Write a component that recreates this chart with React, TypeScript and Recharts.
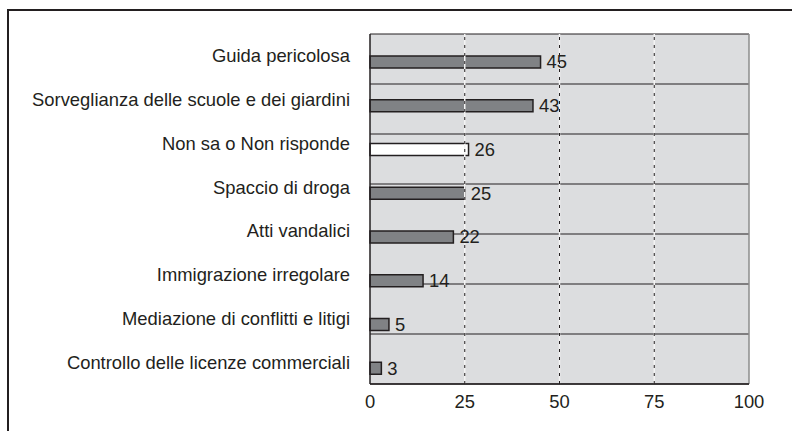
import React from 'react';
import { BarChart, Bar, XAxis, YAxis, CartesianGrid, ReferenceLine, LabelList, Cell } from 'recharts';

const categories = [
  'Guida pericolosa',
  'Sorveglianza delle scuole e dei giardini',
  'Non sa o Non risponde',
  'Spaccio di droga',
  'Atti vandalici',
  'Immigrazione irregolare',
  'Mediazione di conflitti e litigi',
  'Controllo delle licenze commerciali',
];
const values = [45, 43, 26, 25, 22, 14, 5, 3];
const xTicks = [0, 25, 50, 75, 100];
const dashedLines = [25, 50, 75];
const rowBoundaries = [0, 1, 2, 3, 4, 5, 6, 7, 8];
const noAnswerCategory = 'Non sa o Non risponde';

const data = categories.map((name, i) => ({ name, value: values[i] }));

const FONT = '"Liberation Sans", Arial, Helvetica, sans-serif';
const FONT_SIZE = 18.4;
const INK = '#231f20';
const BAR_FILL = '#808285';
const PLOT_BG = '#dcdddf';
const BAR_SHIFT = 6;

const ShiftedBar = (props: any) => {
  const { x, y, width, height, fill } = props;
  return (
    <rect x={x} y={y + BAR_SHIFT} width={width} height={height} fill={fill} stroke={INK} strokeWidth={1.5} />
  );
};

const ValueLabel = (props: any) => {
  const { x, y, width, height, value } = props;
  return (
    <text
      x={x + width + 6}
      y={y + height / 2 + BAR_SHIFT}
      dy="0.35em"
      fontSize={FONT_SIZE}
      fill={INK}
      fontFamily={FONT}
    >
      {value}
    </text>
  );
};

const EmptyTick = () => <g />;

export default function App() {
  return (
    <div style={{ position: 'absolute', left: 0, top: 0, width: 792, height: 431, background: '#fff' }}>
      <div
        style={{
          position: 'absolute',
          left: 7,
          top: 9,
          width: 785,
          height: 422,
          borderTop: `2px solid ${INK}`,
          borderLeft: `2px solid ${INK}`,
          boxSizing: 'border-box',
          pointerEvents: 'none',
        }}
      />
      <div style={{ position: 'absolute', left: 0, top: 0 }}>
        <BarChart
          width={792}
          height={431}
          data={data}
          layout="vertical"
          margin={{ top: 34, right: 43, bottom: 0, left: 0 }}
          barCategoryGap={0}
        >
          <CartesianGrid yAxisId="rows" horizontal vertical={false} fill={PLOT_BG} stroke={INK} strokeWidth={1} />
          <YAxis
            yAxisId="rows"
            type="number"
            domain={[0, 8]}
            ticks={rowBoundaries}
            width={0}
            tickSize={7}
            tickLine={{ stroke: INK, strokeWidth: 1 }}
            axisLine={false}
            tick={EmptyTick}
            allowDataOverflow
          />
          <YAxis
            yAxisId="cat"
            type="category"
            dataKey="name"
            width={370}
            tickSize={0}
            tickMargin={20}
            tickLine={false}
            axisLine={{ stroke: INK, strokeWidth: 1.5 }}
            interval={0}
            tick={{ fontSize: FONT_SIZE, fill: INK, fontFamily: FONT }}
          />
          <XAxis
            type="number"
            domain={[0, 100]}
            ticks={xTicks}
            height={47}
            tickSize={0}
            tickMargin={11}
            tickLine={false}
            axisLine={{ stroke: INK, strokeWidth: 1.5 }}
            tick={{ fontSize: FONT_SIZE, fill: INK, fontFamily: FONT }}
          />
          {dashedLines.map((v) => (
            <ReferenceLine key={`w${v}`} yAxisId="cat" x={v} stroke="#f4f4f4" strokeWidth={1.5} />
          ))}
          {dashedLines.map((v) => (
            <ReferenceLine key={`d${v}`} yAxisId="cat" x={v} stroke={INK} strokeWidth={1} strokeDasharray="3 5" />
          ))}
          <ReferenceLine yAxisId="cat" x={100} stroke="#8c8c8c" strokeWidth={1.5} />
          <Bar
            dataKey="value"
            yAxisId="cat"
            barSize={12}
            isAnimationActive={false}
            shape={ShiftedBar}
          >
            {data.map((d) => (
              <Cell key={d.name} fill={d.name === noAnswerCategory ? '#ffffff' : BAR_FILL} />
            ))}
            <LabelList dataKey="value" content={ValueLabel} />
          </Bar>
        </BarChart>
      </div>
    </div>
  );
}
